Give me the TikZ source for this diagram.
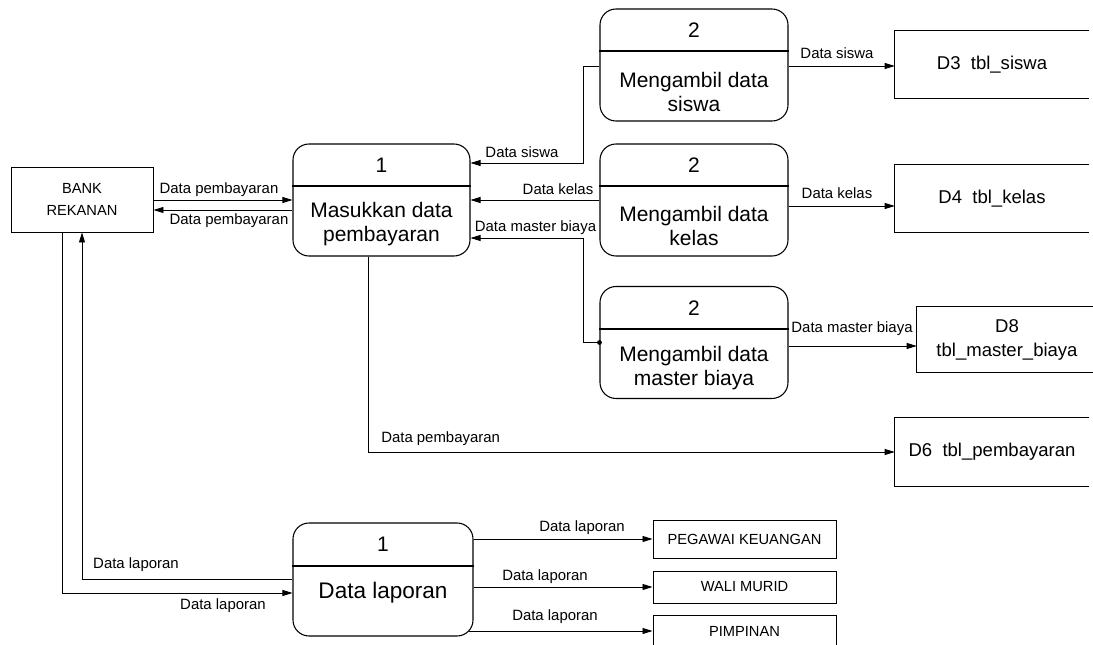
\documentclass[tikz,border=0pt]{standalone}
\usepackage{fontspec}
\setmainfont{Liberation Sans}
\usetikzlibrary{arrows.meta}

\begin{document}
\begin{tikzpicture}[x=0.75pt, y=-0.75pt,
    proc/.style={draw, rounded corners=12pt, line width=0.8pt, minimum height=84pt, inner sep=0pt},
    ptext/.style={align=center, inner sep=0pt, font=\fontsize{15.75}{18}\selectfont},
    ent/.style={draw, line width=0.7pt, inner sep=0pt, align=center, minimum width=137.25pt, font=\fontsize{11}{16.5}\selectfont},
    store/.style={inner sep=0pt, align=center, minimum height=50.25pt, font=\fontsize{13.9}{18}\selectfont},
    flow/.style={-{Triangle[length=7.5pt,width=4.5pt]}, line width=0.6pt},
    lbl/.style={inner sep=0pt, font=\fontsize{11.2}{13}\selectfont}]
\useasboundingbox (0,0) rectangle (1093,645);

% entitas luar
\node[ent, minimum width=106.5pt, minimum height=48.75pt] (bank) at (82,199.5) {BANK\\REKANAN};
\node[ent, minimum height=28.5pt] (peg) at (744.5,539) {PEGAWAI KEUANGAN};
\node[ent, minimum height=24pt] (wali) at (744.5,587) {WALI MURID};
\node[ent, minimum height=24pt] (pimp) at (744.5,631) {PIMPINAN};

% proses
\node[proc, minimum width=132.75pt] (p1) at (381.5,200) {};
\draw[line width=0.8pt] (p1.west |- 0,186) -- (p1.east |- 0,186);
\node[ptext] (p1n) at (381.5,165) {1};
\node[ptext] (p1t) at (381.5,224) {Masukkan data\\pembayaran};

\node[proc, minimum width=141pt] (p2a) at (694,65) {};
\draw[line width=0.8pt] (p2a.west |- 0,51) -- (p2a.east |- 0,51);
\node[ptext] (p2an) at (694,30) {2};
\node[ptext] (p2at) at (694,92) {Mengambil data\\siswa};

\node[proc, minimum width=141pt] (p2b) at (694,200) {};
\draw[line width=0.8pt] (p2b.west |- 0,186) -- (p2b.east |- 0,186);
\node[ptext] (p2bn) at (694,165) {2};
\node[ptext] (p2bt) at (694,226) {Mengambil data\\kelas};

\node[proc, minimum width=141pt] (p2c) at (694,342.5) {};
\draw[line width=0.8pt] (p2c.west |- 0,329) -- (p2c.east |- 0,329);
\node[ptext] (p2cn) at (694,308) {2};
\node[ptext] (p2ct) at (694,368) {Mengambil data\\master biaya};

\node[proc, minimum width=135pt, minimum height=84.75pt] (p3) at (383,579.5) {};
\draw[line width=0.8pt] (p3.west |- 0,566) -- (p3.east |- 0,566);
\node[ptext] (p3n) at (383,544) {1};
\node[ptext, font=\fontsize{16.9}{19}\selectfont] (p3t) at (383,593) {Data laporan};

% data store
\node[store, minimum width=145.5pt] (d3) at (992,64.5) {D3\ \ tbl\_siswa};
\node[store, minimum width=145.5pt] (d4) at (992,198.5) {D4\ \ tbl\_kelas};
\node[store, minimum width=135pt, minimum height=49.5pt] (d8) at (1007,339.5) {D8\\tbl\_master\_biaya};
\node[store, minimum width=145.5pt, minimum height=51pt] (d6) at (992,452) {D6\ \ tbl\_pembayaran};
\foreach \s in {d3,d4,d8,d6}
  \draw[line width=0.7pt] (\s.north east) -- (\s.north west) -- (\s.south west) -- (\s.south east);

% aliran data
\draw[flow] (bank.east |- 0,200) -- (p1.west |- 0,200);
\draw[flow] (p1.west |- 0,210) -- (bank.east |- 0,210);
\draw[flow] (p2a.west |- 0,66) -| (583,163) -- (p1.east |- 0,163);
\draw[flow] (p2b.west) -- (p1.east);
\draw[flow] (p2c.west) -| (583,238) -- (p1.east |- 0,238);
\fill (p2c.west) circle (1.8pt);
\draw[flow] (p1.south -| 368,0) |- (d6.west);
\draw[flow] (p2a.east |- 0,66) -- (d3.west |- 0,66);
\draw[flow] (p2b.east |- 0,206) -- (d4.west |- 0,206);
\draw[flow] (p2c.east |- 0,346) -- (d8.west |- 0,346);
\draw[flow] (p3.west |- 0,579) -| (bank.south);
\draw[flow] (bank.south -| 62,0) |- (p3.west |- 0,593);
\draw[flow] (p3.east |- 0,539) -- (peg.west);
\draw[flow] (p3.east |- 0,587) -- (wali.west);
\draw[flow] ([xshift=-3.5pt]p3.east |- 0,631) -- (pimp.west);

% label
\node[lbl] (l1) at (219,190) {Data pembayaran};
\node[lbl] (l2) at (229,221) {Data pembayaran};
\node[lbl] (l3) at (522,152) {Data siswa};
\node[lbl] (l4) at (558,189) {Data kelas};
\node[lbl] (l5) at (535.5,228) {Data master biaya};
\node[lbl, anchor=west] (l6) at (381,439) {Data pembayaran};
\node[lbl] (l7) at (837,53) {Data siswa};
\node[lbl] (l8) at (837,193) {Data kelas};
\node[lbl] (l9) at (852,329) {Data master biaya};
\node[lbl] (l10) at (136,565) {Data laporan};
\node[lbl] (l11) at (223,606) {Data laporan};
\node[lbl] (l12) at (582,528) {Data laporan};
\node[lbl] (l13) at (545,577) {Data laporan};
\node[lbl] (l14) at (555,617) {Data laporan};
\end{tikzpicture}
\end{document}
